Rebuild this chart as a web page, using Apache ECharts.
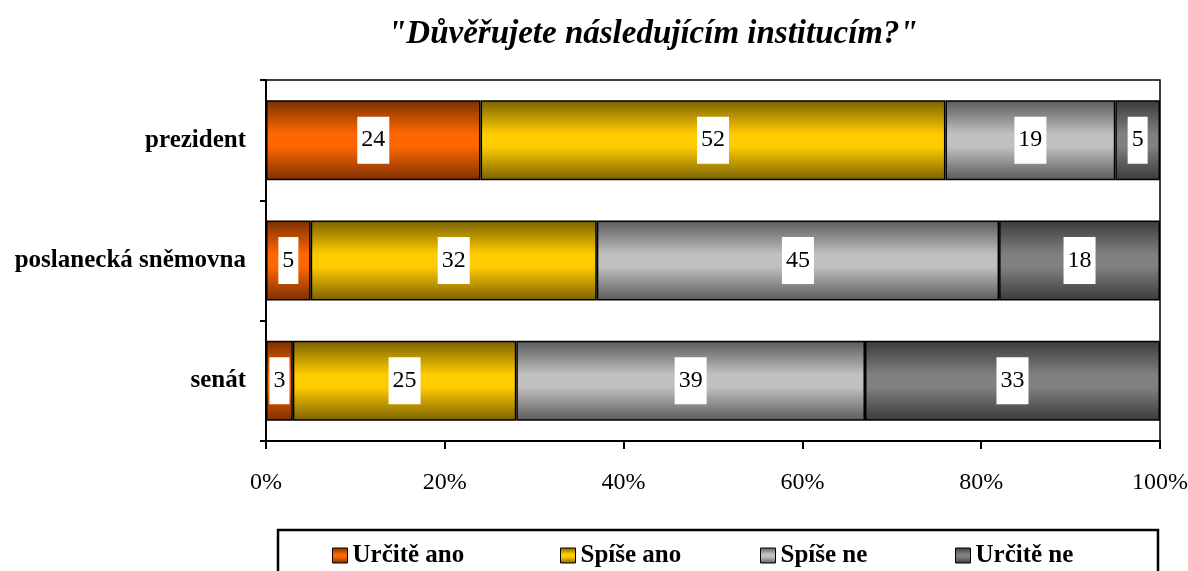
<!DOCTYPE html>
<html>
<head>
<meta charset="utf-8">
<script src="https://cdn.jsdelivr.net/npm/echarts@6/dist/echarts.min.js"></script>
<style>
  html, body { margin: 0; padding: 0; background: #fff; }
  #chart { width: 1188px; height: 571px; }
</style>
</head>
<body>
<div id="chart"></div>
<script>
const categories = ["prezident", "poslanecká sněmovna", "senát"];
const urciteAno = [24, 5, 3];
const spiseAno = [52, 32, 25];
const spiseNe = [19, 45, 39];
const urciteNe = [5, 18, 33];
const xTicks = [0, 20, 40, 60, 80, 100];
const seriesNames = ["Určitě ano", "Spíše ano", "Spíše ne", "Určitě ne"];

const serif = "'Liberation Serif', 'Times New Roman', serif";

function grad(dark, light) {
  return new echarts.graphic.LinearGradient(0, 0, 0, 1, [
    { offset: 0, color: dark },
    { offset: 0.42, color: light },
    { offset: 0.58, color: light },
    { offset: 1, color: dark },
  ]);
}

function bar(name, data, fill) {
  return {
    name,
    type: "bar",
    stack: "total",
    barWidth: 80,
    data,
    itemStyle: { color: fill, borderColor: "#000", borderWidth: 1.5 },
    label: {
      show: true,
      position: "inside",
      color: "#000",
      fontFamily: serif,
      fontSize: 24,
      lineHeight: 24,
      backgroundColor: "#fff",
      padding: [12, 4, 11, 4],
    },
    emphasis: { disabled: true },
  };
}

// one legend per entry, spaced like the original fixed slots
const legendLefts = [327, 555, 755, 950];
const legends = seriesNames.map((n, i) => ({
  data: [n],
  left: legendLefts[i],
  top: 538,
  icon: "rect",
  itemWidth: 15,
  itemHeight: 15,
  itemStyle: { borderColor: "#000", borderWidth: 1 },
  textStyle: {
    fontFamily: serif,
    fontSize: 25,
    fontWeight: "bold",
    color: "#000",
  },
}));

const chart = echarts.init(document.getElementById("chart"));
chart.setOption({
  animation: false,
  title: {
    text: "\"Důvěřujete následujícím institucím?\"",
    left: 383,
    top: 13,
    textStyle: {
      fontFamily: serif,
      fontSize: 33,
      fontWeight: "bold",
      fontStyle: "italic",
      color: "#000",
    },
  },
  grid: {
    left: 266,
    right: 28,
    top: 80,
    bottom: 130,
    show: true,
    borderColor: "#000",
    borderWidth: 1.5,
    outerBoundsMode: "none",
  },
  legend: legends,
  graphic: [
    {
      type: "rect",
      shape: { x: 278, y: 530, width: 880, height: 60 },
      style: { fill: "none", stroke: "#000", lineWidth: 2.5 },
      z: 100,
    },
  ],
  xAxis: {
    type: "value",
    min: xTicks[0],
    max: xTicks[xTicks.length - 1],
    interval: 20,
    axisLine: { show: true, lineStyle: { color: "#000", width: 2 } },
    axisTick: { show: true, length: 8, lineStyle: { color: "#000", width: 2 } },
    splitLine: { show: false },
    axisLabel: {
      formatter: "{value}%",
      color: "#000",
      fontFamily: serif,
      fontSize: 24,
      margin: 30,
    },
  },
  yAxis: {
    type: "category",
    inverse: true,
    data: categories,
    axisLine: { show: true, lineStyle: { color: "#000", width: 2 } },
    axisTick: { show: true, length: 6, lineStyle: { color: "#000", width: 2 } },
    axisLabel: {
      color: "#000",
      fontFamily: serif,
      fontSize: 25,
      fontWeight: "bold",
      margin: 20,
    },
  },
  series: [
    bar(seriesNames[0], urciteAno, grad("#7a3000", "#ff6600")),
    bar(seriesNames[1], spiseAno, grad("#7a6000", "#ffcc00")),
    bar(seriesNames[2], spiseNe, grad("#5a5a5a", "#c0c0c0")),
    bar(seriesNames[3], urciteNe, grad("#3a3a3a", "#808080")),
  ],
});
</script>
</body>
</html>
